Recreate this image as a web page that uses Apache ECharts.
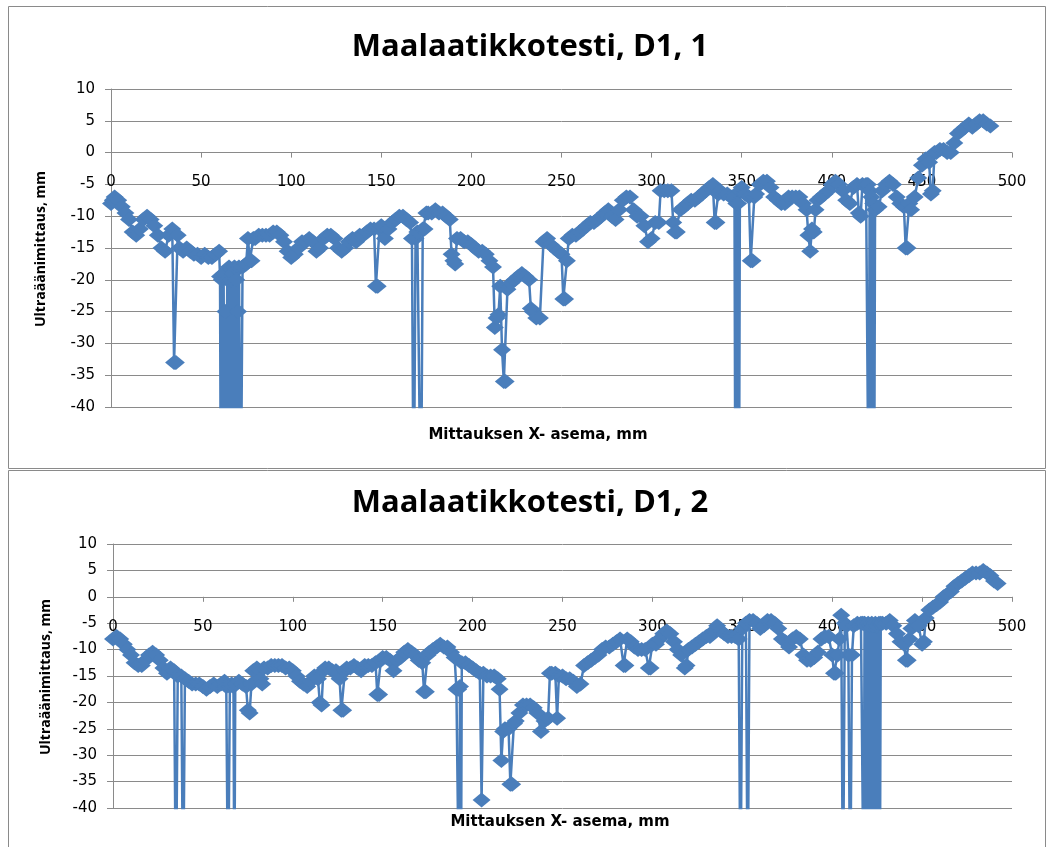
<!DOCTYPE html>
<html>
<head>
<meta charset="utf-8">
<script src="https://cdn.jsdelivr.net/npm/echarts@6/dist/echarts.min.js"></script>
<style>
  html, body { margin: 0; padding: 0; background: #ffffff; }
  #chart { width: 1053px; height: 847px; }
</style>
</head>
<body>
<div id="chart"></div>
<script>
// Chart texts
const chartTitles = ['Maalaatikkotesti, D1, 1', 'Maalaatikkotesti, D1, 2'];
const xAxisTitle = 'Mittauksen X- asema, mm';
const yAxisTitle = 'Ultraäänimittaus, mm';

// Axis ranges (ticks every 5 mm in depth, every 50 mm in position)
const depthMin = -40, depthMax = 10, depthStep = 5;
const posMin = 0, posMax = 500, posStep = 50;

// Run D1, 1: [measurement position mm, ultrasonic reading mm].
// Readings of -60 are lost echoes that fall far below the plotted range.
const run1 = [
  [0,-8],[1,-7.5],[2,-7],[4,-7.5],[6,-8.5],[8,-9.5],[10,-10.5],[12,-12.5],[14,-13],[16,-12],[18,-10.5],
  [20,-10],[22,-10.5],[24,-11.5],[26,-13],[28,-15],[30,-15.5],[32,-13],[34,-12],[35,-33],[36,-33],[37,-13],
  [38,-15],[40,-15.5],[42,-15],[44,-15.5],[46,-16],[48,-16],[50,-16.5],[52,-16],[54,-16.5],[56,-16.5],
  [58,-16],[60,-15.5],[60.5,-19.5],[61,-60],[61.5,-20],[62,-60],[62.5,-19],[63,-60],[63.5,-25],[64,-60],
  [64.5,-20],[65,-60],[65.5,-18],[66,-60],[66.5,-20],[67,-60],[67.5,-19],[68,-60],[68.5,-18],[69,-60],
  [69.5,-20],[70,-60],[70.5,-25],[71,-18],[72,-60],[73,-18],[75,-17.5],[76,-13.5],[77,-17],[78,-17],
  [79,-13.5],[80,-13.5],[82,-13],[84,-13],[86,-13],[88,-13],[90,-12.5],[92,-12.5],[94,-13],[96,-14],
  [98,-15.5],[100,-16.5],[102,-16],[104,-15],[106,-14],[108,-14],[110,-13.5],[112,-14],[114,-15.5],
  [116,-15],[118,-13.5],[120,-13],[122,-13],[124,-13.5],[126,-15],[128,-15.5],[130,-15],[132,-14],
  [134,-13.5],[136,-14],[138,-13],[140,-13],[142,-12.5],[144,-12],[146,-12],[147,-21],[148,-21],[149,-12],
  [150,-11.5],[152,-13.5],[154,-12],[156,-11],[158,-10.5],[160,-10],[162,-10],[164,-10.5],[166,-11],
  [167,-13.5],[168,-60],[169,-13.5],[170,-12.5],[172,-60],[173,-12],[174,-12],[175,-9.5],[176,-9.5],
  [178,-9.5],[180,-9],[182,-9.5],[184,-9.5],[186,-10],[188,-10.5],[189,-16],[190,-17],[191,-17.5],
  [192,-13.5],[194,-13.5],[196,-14],[198,-14],[200,-14.5],[202,-15],[204,-15.5],[206,-15.5],[208,-16],
  [210,-17],[212,-18],[213,-27.5],[214,-26],[215,-25.5],[216,-21],[217,-31],[218,-36],[219,-36],
  [220,-21.5],[222,-20.5],[224,-20],[226,-19.5],[228,-19],[230,-19.5],[232,-20],[233,-24.5],[234,-25],
  [236,-26],[238,-26],[240,-14],[242,-13.5],[244,-14.5],[246,-15],[248,-15.5],[250,-16],[251,-23],
  [252,-23],[253,-17],[254,-13.5],[256,-13],[258,-13],[260,-12.5],[262,-12],[264,-11.5],[266,-11],
  [268,-11],[270,-10.5],[272,-10],[274,-9.5],[276,-9],[278,-10],[280,-10.5],[282,-9],[284,-7.5],[286,-7],
  [288,-7],[290,-9],[292,-10],[294,-10],[296,-11.5],[298,-14],[300,-13.5],[302,-11],[304,-11],[305,-6],
  [307,-6],[309,-6],[311,-6],[312,-11],[313,-12.5],[314,-12.5],[316,-9],[318,-8.5],[320,-8],[322,-7.5],
  [324,-7.5],[326,-7],[328,-6.5],[330,-6],[332,-5.5],[334,-5],[335,-11],[336,-11],[337,-6.5],[338,-6],
  [340,-6.5],[342,-6.5],[344,-7],[346,-7],[346.5,-60],[347,-8],[347.5,-60],[348,-8],[348.5,-60],[349,-6],
  [350,-5.5],[352,-6.5],[354,-7],[355,-17],[356,-17],[357,-7],[358,-6.5],[360,-5],[362,-4.5],[364,-4.5],
  [366,-5.5],[368,-7],[370,-7.5],[372,-8],[374,-8],[376,-7],[378,-7],[380,-7],[382,-7],[384,-8],[386,-9],
  [387,-13],[388,-15.5],[389,-12],[390,-12.5],[391,-9],[392,-7.5],[394,-7],[396,-6.5],[398,-6],[400,-5],
  [402,-4.5],[404,-5],[406,-6],[408,-7.5],[410,-8],[412,-5.5],[414,-5],[415,-9.5],[416,-10],[417,-5],
  [419,-5],[420,-5],[420.5,-60],[421,-6],[421.5,-60],[422,-7],[422.5,-60],[423,-8],[423.5,-60],[424,-9],
  [426,-8.5],[428,-6],[430,-5],[432,-4.5],[434,-5],[436,-7],[438,-8],[440,-8.5],[441,-15],[442,-15],
  [443,-8],[444,-9],[446,-7],[448,-4],[450,-2],[452,-1],[454,-1.5],[455,-6.5],[456,-6],[457,0],[458,0],
  [460,0.5],[462,0.5],[464,0],[466,0],[468,1.5],[470,3],[472,3.5],[474,4],[476,4.5],[478,4],[480,4.5],
  [482,5],[484,5],[486,4.5],[488,4.2]
];

// Run D1, 2
const run2 = [
  [0,-8],[2,-7.5],[4,-8],[6,-9],[8,-10],[10,-11],[12,-12.5],[14,-13],[16,-13],[18,-12],[20,-11],
  [22,-10.5],[24,-11],[26,-12],[28,-13.5],[30,-14.5],[32,-13.5],[34,-14],[35,-60],[36,-15],[38,-15],
  [39,-60],[40,-15.5],[42,-16],[44,-16.5],[46,-16.5],[48,-16.5],[50,-17],[52,-17.5],[54,-17],[56,-16.5],
  [58,-17],[60,-16.5],[62,-16],[63,-17],[64,-60],[65,-17],[66,-16.5],[67,-17],[67.5,-60],[68,-16.5],
  [70,-16],[72,-16.5],[74,-17],[75,-21.5],[76,-22],[77,-16.5],[78,-14],[80,-13.5],[82,-15.5],[83,-16.5],
  [84,-13.5],[86,-13.5],[88,-13],[90,-13],[92,-13],[94,-13],[96,-13.5],[98,-13.5],[100,-14],[102,-15],
  [104,-16],[106,-16.5],[108,-17],[110,-16],[112,-15],[114,-15.5],[115,-20],[116,-20.5],[117,-14],
  [118,-13.5],[120,-13.5],[122,-14],[124,-14],[126,-15.5],[127,-21.5],[128,-21.5],[129,-14],[130,-13.5],
  [132,-13.5],[134,-13],[136,-13.5],[138,-14],[140,-13],[142,-13],[144,-13],[146,-12.5],[147,-18.5],
  [148,-18.5],[149,-12],[150,-11.5],[152,-11.5],[154,-12],[156,-14],[158,-12],[160,-11.5],[162,-10.5],
  [164,-10],[166,-10.5],[168,-11],[170,-12],[172,-12.5],[173,-18],[174,-18],[175,-11],[176,-10.5],
  [178,-10],[180,-9.5],[182,-9],[184,-9.5],[186,-9.5],[188,-10.5],[190,-11.5],[191,-17.5],[192,-17.5],
  [192.5,-60],[193,-17],[193.5,-60],[194,-12.5],[196,-12.5],[198,-13],[200,-13.5],[202,-14],[204,-14.5],
  [205,-38.5],[206,-14.5],[208,-15],[210,-15],[212,-15],[214,-15.5],[215,-17.5],[216,-31],[217,-25.5],
  [218,-25],[220,-25],[221,-35.5],[222,-35.5],[223,-24],[224,-23.5],[226,-22],[228,-20.5],[230,-20.5],
  [232,-20.5],[234,-21],[236,-22],[238,-25.5],[240,-23.5],[242,-23],[243,-14.5],[244,-14.5],[246,-14.5],
  [247,-23],[248,-15],[250,-15],[252,-15.5],[254,-15.5],[256,-16],[258,-17],[260,-16.5],[262,-13],
  [264,-12.5],[266,-12],[268,-11.5],[270,-11],[272,-10],[274,-9.5],[276,-9.5],[278,-9],[280,-8.5],
  [282,-8],[284,-13],[285,-13],[286,-8],[288,-8.5],[290,-9.5],[292,-10],[294,-10],[296,-10],[298,-13.5],
  [299,-13.5],[300,-9],[302,-9],[304,-8],[306,-7],[308,-6.5],[310,-7],[312,-8.5],[314,-10],[316,-11],
  [318,-13.5],[319,-13],[320,-10],[322,-9.5],[324,-9],[326,-8.5],[328,-8],[330,-7.5],[332,-7.5],
  [334,-6.5],[336,-5.5],[338,-6.5],[340,-7],[342,-7.5],[344,-7.5],[346,-7.5],[348,-8],[349,-60],[350,-6],
  [352,-5],[353,-60],[354,-4.5],[356,-4.5],[358,-5],[360,-6],[362,-5.5],[364,-4.5],[366,-4.5],[368,-5],
  [370,-6],[372,-8],[374,-8.5],[376,-9.5],[378,-8],[380,-7.5],[382,-8],[384,-11],[386,-12],[388,-12],
  [390,-11.5],[392,-10.5],[394,-8],[396,-7.5],[398,-7.5],[400,-11],[401,-14.5],[402,-14.5],[403,-11],
  [404,-8],[405,-3.5],[406,-60],[407,-5],[408,-5.5],[409,-11],[410,-60],[411,-11],[412,-5.5],[414,-5],
  [416,-5],[417,-5],[417.5,-60],[418,-5],[418.5,-60],[419,-5.5],[419.5,-60],[420,-5],[420.5,-60],
  [421,-5.5],[421.5,-60],[422,-5],[422.5,-60],[423,-5.5],[423.5,-60],[424,-5],[424.5,-60],[425,-5.5],
  [425.5,-60],[426,-5],[426.5,-60],[427,-5],[428,-5],[430,-5],[432,-4.5],[434,-5.5],[436,-7],[438,-8.5],
  [440,-9],[441,-12],[442,-12],[443,-8],[444,-6],[446,-4.5],[448,-5.5],[450,-9],[451,-8.5],[452,-4],
  [454,-2.5],[456,-2],[458,-1.5],[460,-1],[462,0],[464,0.5],[466,1],[468,2],[470,2.5],[472,3],[474,3.5],
  [476,4],[478,4.5],[480,4.5],[482,4.5],[484,5],[486,4.5],[488,4],[490,3],[492,2.5]
];

const seriesColor = '#4a7ebb';
const gridColor = '#8a8a8a';
const textColor = '#000000';
const titleFont = '"Open Sans", sans-serif';
const labelFont = '"DejaVu Sans", sans-serif';

const panels = [
  { title: chartTitles[0], data: run1,
    grid: { left: 111, top: 89, width: 901, height: 318 },
    titleTop: 27, xNameX: 538, xNameY: 435, yNameX: 41, yNameY: 249, labelMargin: 22 },
  { title: chartTitles[1], data: run2,
    grid: { left: 113, top: 544, width: 899, height: 264 },
    titleTop: 483, xNameX: 560, xNameY: 822, yNameX: 46, yNameY: 677, labelMargin: 23 }
];

// Pixel distance from the bottom of a plot to its zero line, so the
// position axis can sit on depth 0.
function zeroOffset(p) {
  return -p.grid.height * (0 - depthMin) / (depthMax - depthMin);
}

const chart = echarts.init(document.getElementById('chart'), null, { renderer: 'canvas' });

const option = {
  animation: false,
  backgroundColor: '#ffffff',
  title: panels.map(p => ({
    text: p.title,
    left: 525,
    top: p.titleTop,
    textAlign: 'center',
    textStyle: { fontFamily: titleFont, fontWeight: 'bold', fontSize: 31, color: '#000000' }
  })),
  grid: panels.map(p => Object.assign({ containLabel: false }, p.grid)),
  xAxis: panels.map((p, i) => ({
    type: 'value',
    gridIndex: i,
    position: 'bottom',
    offset: zeroOffset(p),
    min: posMin, max: posMax, interval: posStep,
    axisLine: { show: true, onZero: false, lineStyle: { color: gridColor, width: 1 } },
    axisTick: { show: true, inside: false, length: 5, lineStyle: { color: gridColor } },
    axisLabel: { color: textColor, fontFamily: labelFont, fontSize: 15, margin: p.labelMargin },
    splitLine: { show: false }
  })),
  yAxis: panels.map((p, i) => ({
    type: 'value',
    gridIndex: i,
    min: depthMin, max: depthMax, interval: depthStep,
    axisLine: { show: true, onZero: false, lineStyle: { color: gridColor, width: 1 } },
    axisTick: { show: true, inside: false, length: 6, lineStyle: { color: gridColor } },
    axisLabel: { color: textColor, fontFamily: labelFont, fontSize: 15, margin: 16 },
    splitLine: { show: true, lineStyle: { color: gridColor, width: 1 } }
  })),
  series: panels.map((p, i) => ({
    type: 'line',
    xAxisIndex: i,
    yAxisIndex: i,
    data: p.data,
    clip: true,
    showAllSymbol: true,
    symbol: 'diamond',
    symbolSize: [18, 15],
    lineStyle: { color: seriesColor, width: 2.5 },
    itemStyle: { color: seriesColor, borderWidth: 0 },
    emphasis: { disabled: true },
    z: 3
  })),
  graphic: [
    // panel frames
    { type: 'rect', shape: { x: 8.5, y: 6.5, width: 1037, height: 462 },
      style: { fill: 'none', stroke: '#8a8a8a', lineWidth: 1 }, silent: true },
    { type: 'rect', shape: { x: 8.5, y: 470.5, width: 1037, height: 400 },
      style: { fill: 'none', stroke: '#8a8a8a', lineWidth: 1 }, silent: true }
  ].concat(panels.flatMap(p => [
    { type: 'text', x: p.xNameX, y: p.xNameY, silent: true,
      style: { text: xAxisTitle, fontFamily: labelFont, fontWeight: 'bold', fontSize: 15,
               fill: textColor, align: 'center', verticalAlign: 'middle' } },
    { type: 'text', x: p.yNameX, y: p.yNameY, rotation: Math.PI / 2, silent: true,
      style: { text: yAxisTitle, fontFamily: titleFont, fontWeight: 'bold', fontSize: 14,
               fill: textColor, align: 'center', verticalAlign: 'middle' } }
  ]))
};

chart.setOption(option);
</script>
</body>
</html>
